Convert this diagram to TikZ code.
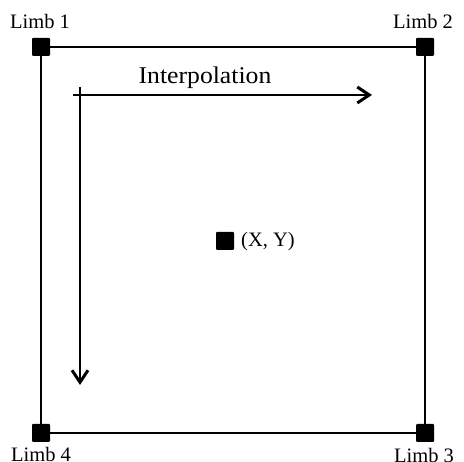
\documentclass[tikz,border=0pt]{standalone}
\usepackage{fontspec}
\setmainfont{Liberation Serif}
\usetikzlibrary{arrows.meta}
\begin{document}
\begin{tikzpicture}[x=1pt,y=-1pt,
  corner/.style={fill=black,minimum size=18pt,inner sep=0pt,rounded corners=1pt},
  lbl/.style={font=\fontsize{20.5}{22}\selectfont,inner sep=0pt},
  edge/.style={line width=2.2pt},
  arr/.style={line width=2.2pt,-{Straight Barb[length=12pt,width=16pt,line width=3pt]}}]
\useasboundingbox (0,0) rectangle (464,462);
\node[corner] (l1) at (41,47) {};
\node[corner] (l2) at (425,47) {};
\node[corner] (l3) at (425,433) {};
\node[corner] (l4) at (41,433) {};
\draw[edge] (l1) -- (l2) -- (l3) -- (l4) -- (l1);
\node[lbl] (t1) at (40,21) {Limb 1};
\node[lbl] (t2) at (423,21) {Limb 2};
\node[lbl] (t3) at (424,455) {Limb 3};
\node[lbl] (t4) at (41,454) {Limb 4};
\coordinate (hs) at (73,95);
\coordinate (he) at (372,95);
\coordinate (vs) at (80,87);
\coordinate (ve) at (80,385);
\draw[arr] (hs) -- (he);
\draw[arr] (vs) -- (ve);
\node[font=\fontsize{24}{26}\selectfont,inner sep=0pt,xscale=1.07] (ip) at (205,78) {Interpolation};
\node[corner] (xy) at (225,241) {};
\node[lbl,anchor=west] (xyt) at (241,242) {(X, Y)};
\end{tikzpicture}
\end{document}
